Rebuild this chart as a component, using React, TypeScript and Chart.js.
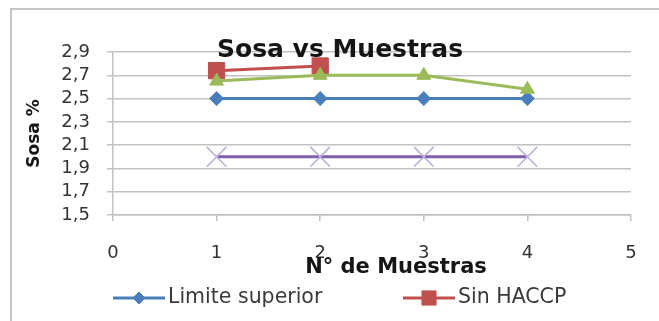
import React, { useEffect, useRef } from "react";
import { Chart, registerables } from "chart.js";
import { drawPoint } from "chart.js/helpers";

Chart.register(...registerables);

// Sample numbers on the x axis
const muestras = [1, 2, 3, 4];

// Caustic soda (%) per series
const limiteSuperior = [2.5, 2.5, 2.5, 2.5];
const sinHaccp = [2.74, 2.78];
const conHaccp = [2.65, 2.7, 2.7, 2.58];
const limiteInferior = [2.0, 2.0, 2.0, 2.0];

const seriesNames = ["Limite superior", "Sin HACCP", "Con HACCP", "Limite inferior"];

// Axis ranges
const xMin = 0;
const xMax = 5;
const xStep = 1;
const yMin = 1.5;
const yMax = 2.9;
const yStep = 0.2;

const chartTitle = "Sosa vs Muestras";
const xAxisTitle = "N° de Muestras";
const yAxisTitle = "Sosa %";

const FONT = '"DejaVu Sans", sans-serif';
const GRID = "#c2c2c2";

const toPoints = (values: number[]) => values.map((y, i) => ({ x: muestras[i], y }));

// Draws the chart title, the x-axis title and a line+marker legend
const overlayPlugin = {
  id: "sosaOverlay",
  afterDraw(chart: any) {
    const { ctx, chartArea } = chart;
    ctx.save();

    ctx.fillStyle = "#151515";
    ctx.textAlign = "center";
    ctx.textBaseline = "alphabetic";
    ctx.font = `bold 25px ${FONT}`;
    ctx.fillText(chartTitle, chartArea.left + 227, chartArea.top + 5);

    ctx.font = `bold 21px ${FONT}`;
    ctx.fillText(xAxisTitle, chartArea.left + 283, chartArea.bottom + 58);

    // legend: two entries per row
    const colWidth = 290;
    const rowHeight = 40;
    chart.data.datasets.forEach((ds: any, i: number) => {
      const x = chartArea.left + (i % 2) * colWidth;
      const y = chartArea.bottom + 83 + Math.floor(i / 2) * rowHeight;
      ctx.strokeStyle = ds.borderColor;
      ctx.lineWidth = 3;
      ctx.beginPath();
      ctx.moveTo(x, y);
      ctx.lineTo(x + 52, y);
      ctx.stroke();

      ctx.fillStyle = ds.pointBackgroundColor;
      ctx.strokeStyle = ds.pointBorderColor;
      ctx.lineWidth = ds.pointBorderWidth;
      drawPoint(
        ctx,
        {
          pointStyle: ds.pointStyle,
          radius: ds.legendRadius,
          borderWidth: ds.pointBorderWidth,
          rotation: 0,
        } as any,
        x + 26,
        y
      );

      ctx.fillStyle = "#3a3a3a";
      ctx.textAlign = "left";
      ctx.textBaseline = "middle";
      ctx.font = `20.5px ${FONT}`;
      ctx.fillText(ds.label, x + 55, y);
    });

    ctx.restore();
  },
};

export default function App() {
  const canvasRef = useRef<HTMLCanvasElement | null>(null);

  useEffect(() => {
    if (!canvasRef.current) return;

    const chart = new Chart(canvasRef.current, {
      type: "line",
      data: {
        datasets: [
          {
            label: seriesNames[0],
            data: toPoints(limiteSuperior),
            borderColor: "#4a7ebb",
            borderWidth: 3,
            pointStyle: "rectRot",
            pointRadius: 7,
            pointBackgroundColor: "#4a7ebb",
            pointBorderColor: "#4a7ebb",
            pointBorderWidth: 1,
            legendRadius: 6,
            order: 4,
          } as any,
          {
            label: seriesNames[1],
            data: toPoints(sinHaccp),
            borderColor: "#c0504d",
            borderWidth: 3,
            pointStyle: "rect",
            pointRadius: 11.5,
            pointBackgroundColor: "#c0504d",
            pointBorderColor: "#c0504d",
            pointBorderWidth: 1,
            legendRadius: 10,
            order: 3,
          } as any,
          {
            label: seriesNames[2],
            data: toPoints(conHaccp),
            borderColor: "#9bbb59",
            borderWidth: 3,
            pointStyle: "triangle",
            pointRadius: 8,
            pointBackgroundColor: "#9bbb59",
            pointBorderColor: "#9bbb59",
            pointBorderWidth: 1,
            legendRadius: 7,
            order: 2,
          } as any,
          {
            label: seriesNames[3],
            data: toPoints(limiteInferior),
            borderColor: "#7d60a8",
            borderWidth: 3,
            pointStyle: "crossRot",
            pointRadius: 14,
            pointBackgroundColor: "#bcaed8",
            pointBorderColor: "#bcaed8",
            pointBorderWidth: 1.5,
            legendRadius: 9,
            order: 1,
          } as any,
        ],
      },
      options: {
        responsive: false,
        animation: false,
        events: [],
        layout: { padding: { left: 12, right: 28, top: 52, bottom: 0 } },
        plugins: {
          legend: { display: false },
          tooltip: { enabled: false },
          title: { display: false },
        },
        elements: { line: { tension: 0 } },
        scales: {
          x: {
            type: "linear",
            min: xMin,
            max: xMax,
            afterFit: (scale: any) => {
              scale.height = 106;
            },
            ticks: {
              stepSize: xStep,
              autoSkip: false,
              padding: 22,
              color: "#333",
              font: { family: FONT, size: 18 },
            },
            grid: {
              drawOnChartArea: false,
              drawTicks: true,
              tickLength: 6,
              color: GRID,
              lineWidth: 1.5,
            },
            border: { display: true, color: GRID, width: 1.5 },
          },
          y: {
            type: "linear",
            min: yMin,
            max: yMax,
            afterFit: (scale: any) => {
              scale.width = 101;
            },
            ticks: {
              stepSize: yStep,
              autoSkip: false,
              padding: 17,
              color: "#333",
              font: { family: FONT, size: 18 },
              callback: (v: any) => Number(v).toFixed(1).replace(".", ","),
            },
            grid: {
              color: GRID,
              lineWidth: 1.5,
              drawTicks: true,
              tickLength: 6,
            },
            border: { display: true, color: GRID, width: 1.5 },
            title: {
              display: true,
              text: yAxisTitle,
              color: "#151515",
              font: { family: FONT, size: 17, weight: "bold" },
              padding: { top: 12, bottom: 0 },
            },
          },
        },
      } as any,
      plugins: [overlayPlugin],
    });

    return () => chart.destroy();
  }, []);

  return (
    <div
      style={{
        position: "fixed",
        left: 0,
        top: 0,
        width: 659,
        height: 321,
        overflow: "hidden",
        background: "#fff",
      }}
    >
      <div
        style={{
          position: "absolute",
          left: 10,
          top: 8,
          width: 720,
          height: 400,
          border: "2px solid #c4c4c4",
          boxSizing: "border-box",
        }}
      />
      <canvas
        ref={canvasRef}
        width={659}
        height={321}
        style={{ position: "absolute", left: 0, top: 0 }}
      />
    </div>
  );
}
